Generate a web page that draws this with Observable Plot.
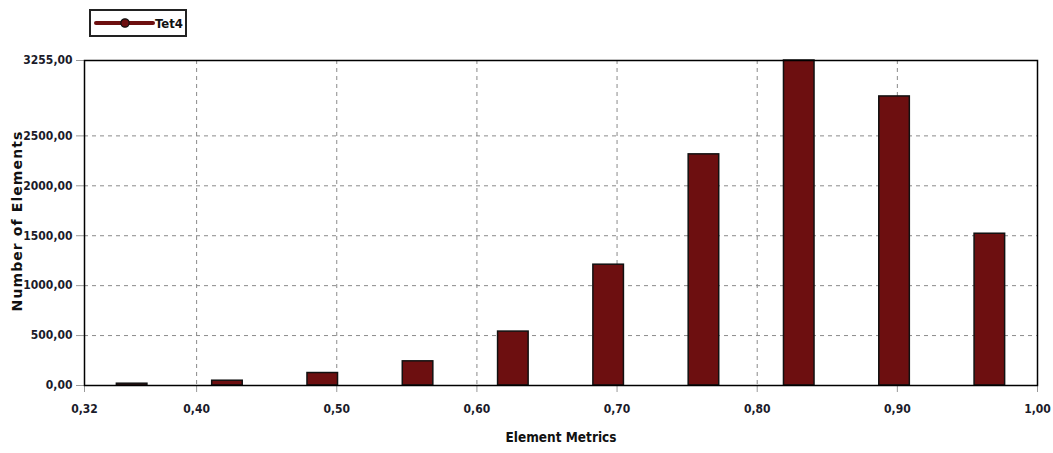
<!DOCTYPE html>
<html>
<head>
<meta charset="utf-8">
<script src="https://cdn.jsdelivr.net/npm/d3@7"></script>
<script src="https://cdn.jsdelivr.net/npm/@observablehq/plot@0.6"></script>
<style>
  html, body { margin: 0; padding: 0; background: #fff; }
  #wrap { position: relative; width: 1053px; height: 453px; }
  #legend {
    position: absolute; left: 89px; top: 9px; width: 94px; height: 24px;
    border: 2px solid #222; background: #fff; box-sizing: content-box;
  }
  #legend svg { display: block; }
  #chart svg { display: block; }
</style>
</head>
<body>
<div id="wrap">
  <div id="chart"></div>
  <div id="legend"></div>
</div>
<script>
// Element quality histogram for the Tet4 mesh
const seriesName = "Tet4";
const binCenters = [0.354, 0.422, 0.490, 0.558, 0.626, 0.694, 0.762, 0.830, 0.898, 0.966];
const elementCounts = [18, 48, 125, 242, 540, 1210, 2315, 3255, 2895, 1520];
const xTicks = [0.32, 0.40, 0.50, 0.60, 0.70, 0.80, 0.90, 1.00];
const yTicks = [0, 500, 1000, 1500, 2000, 2500, 3255];
const xGrid = [0.40, 0.50, 0.60, 0.70, 0.80, 0.90];
const yGrid = [500, 1000, 1500, 2000, 2500];

const barColor = "#6d0f10";
const barWidth = 0.0218;
const labelFont = "'DejaVu Sans', sans-serif";
const comma = (d) => d3.format(".2f")(d).replace(".", ",");

const bars = binCenters.map((c, i) => ({ x1: c - barWidth / 2, x2: c + barWidth / 2, count: elementCounts[i] }));

const chart = Plot.plot({
  width: 1053,
  height: 453,
  marginLeft: 84,
  marginRight: 16,
  marginTop: 60,
  marginBottom: 68,
  style: { fontFamily: labelFont, fontSize: "12px", fontWeight: "bold", fontStretch: "condensed", color: "#1b1b2a", background: "#fff" },
  x: { domain: [0.32, 1.0] },
  y: { domain: [0, 3255] },
  marks: [
    Plot.gridX(xGrid, { stroke: "#8a8a8a", strokeOpacity: 1, strokeDasharray: "4,4", strokeWidth: 1 }),
    Plot.gridY(yGrid, { stroke: "#8a8a8a", strokeOpacity: 1, strokeDasharray: "4,4", strokeWidth: 1 }),
    Plot.axisX({ ticks: xTicks, tickFormat: comma, tickSize: 7, tickPadding: 12, stroke: "#999", label: null }),
    Plot.axisY({ ticks: yTicks, tickFormat: comma, tickSize: 8, tickPadding: 4, stroke: "#999", label: null }),
    Plot.rect(bars, { x1: "x1", x2: "x2", y1: 0, y2: "count", fill: barColor, stroke: "#111", strokeWidth: 1.5 }),
    Plot.frame({ stroke: "#000", strokeWidth: 1.5 }),
    Plot.text(["Element Metrics"], {
      frameAnchor: "bottom", dy: 56, text: (d) => d, fontSize: 13.5, fontWeight: "bold", fill: "#111"
    }),
    Plot.text(["Number of Elements"], {
      frameAnchor: "left", textAnchor: "middle", dx: -67, dy: -2, rotate: -90, text: (d) => d,
      fontSize: 14, fontWeight: "bold", fill: "#111", className: "ytitle"
    })
  ]
});
document.getElementById("chart").appendChild(chart);
// the vertical axis title is set wide and slightly tracked out
d3.select(chart).selectAll(".ytitle text").style("font-stretch", "normal").style("letter-spacing", "1.1px");

// Legend: line with a marker, as drawn by the series style
const legend = d3.select("#legend").append("svg").attr("width", 94).attr("height", 24);
legend.append("line").attr("x1", 5).attr("x2", 62).attr("y1", 12).attr("y2", 12)
  .attr("stroke", barColor).attr("stroke-width", 4).attr("stroke-linecap", "round");
legend.append("circle").attr("cx", 34).attr("cy", 12).attr("r", 4.2)
  .attr("fill", barColor).attr("stroke", "#111").attr("stroke-width", 1.2);
legend.append("text").attr("x", 64).attr("y", 17).text(seriesName)
  .attr("font-family", labelFont).attr("font-size", 13).attr("font-weight", "bold")
  .style("font-stretch", "condensed").attr("fill", "#111");
</script>
</body>
</html>
